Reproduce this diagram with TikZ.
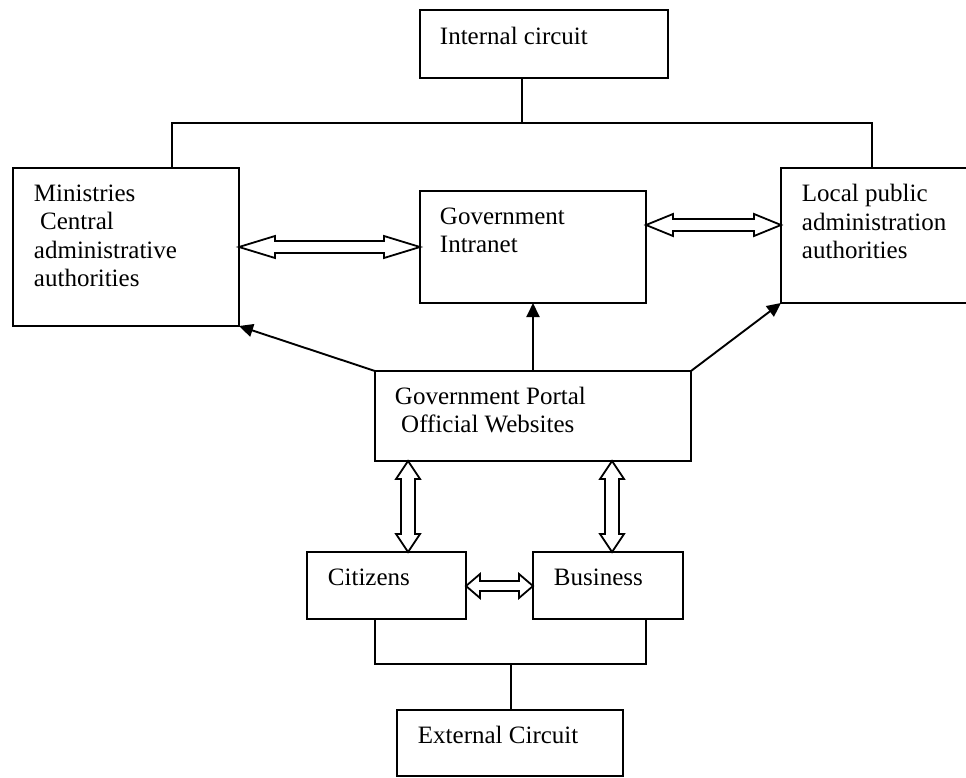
\documentclass[tikz,border=0pt]{standalone}
\usepackage{fontspec}
\setmainfont{Liberation Serif}
\usetikzlibrary{calc,arrows.meta}
\newcommand{\mylines}[1]{\begin{tabular}[t]{@{}l@{}}#1\end{tabular}}
% horizontal hollow double arrow: left point, right point, head length, head half-height, shaft half-height
\newcommand{\myHarrow}[5]{%
  \draw[hollowarrow] let \p1=(#1), \p2=(#2) in
   (\x1,\y1) -- (\x1+#3,\y1+#4) -- (\x1+#3,\y1+#5) -- (\x2-#3,\y1+#5) -- (\x2-#3,\y1+#4)
   -- (\x2,\y1) -- (\x2-#3,\y1-#4) -- (\x2-#3,\y1-#5) -- (\x1+#3,\y1-#5) -- (\x1+#3,\y1-#4) -- cycle;}
% vertical hollow double arrow: top point, bottom point, head length, head half-width, shaft half-width
\newcommand{\myVarrow}[5]{%
  \draw[hollowarrow] let \p1=(#1), \p2=(#2) in
   (\x1,\y1) -- (\x1+#4,\y1-#3) -- (\x1+#5,\y1-#3) -- (\x1+#5,\y2+#3) -- (\x1+#4,\y2+#3)
   -- (\x1,\y2) -- (\x1-#4,\y2+#3) -- (\x1-#5,\y2+#3) -- (\x1-#5,\y1-#3) -- (\x1-#4,\y1-#3) -- cycle;}
\begin{document}
\begin{tikzpicture}[x=1pt, y=-1pt, line width=1.9pt,
  box/.style={draw, inner sep=0pt, outer sep=0pt, anchor=north west},
  txt/.style={anchor=base west, inner sep=0pt, font=\fontsize{25}{28.5}\selectfont},
  hollowarrow/.style={draw, fill=white, line join=miter, line width=1.8pt},
  arr/.style={-{Triangle[length=14pt,width=13pt]}}]
\path[use as bounding box, clip] (0,0) rectangle (966,778);

% boxes
\node[box, minimum width=248pt, minimum height=68pt]  (int)   at (420,10)  {};
\node[box, minimum width=226pt, minimum height=158pt] (min)   at (13,168)  {};
\node[box, minimum width=226pt, minimum height=112pt] (intra) at (420,191) {};
\node[box, minimum width=200pt, minimum height=135pt] (loc)   at (781,168) {};
\node[box, minimum width=316pt, minimum height=90pt]  (por)   at (375,371) {};
\node[box, minimum width=159pt, minimum height=67pt]  (cit)   at (307,552) {};
\node[box, minimum width=150pt, minimum height=67pt]  (bus)   at (533,552) {};
\node[box, minimum width=226pt, minimum height=66pt]  (ext)   at (397,710) {};

% texts
\node[txt] (intT)   at (439,45)  {Internal circuit};
\node[txt] (minT)   at (33,201)  {\mylines{Ministries\\\hspace{0.25em}Central\\administrative\\authorities}};
\node[txt] (intraT) at (439,224) {\mylines{Government\\Intranet}};
\node[txt] (locT)   at (801,202) {\mylines{Local public\\administration\\authorities}};
\node[txt] (porT)   at (394,404) {\mylines{Government Portal\\\hspace{0.25em}Official Websites}};
\node[txt] (citT)   at (327,585) {Citizens};
\node[txt] (busT)   at (553,585) {Business};
\node[txt] (extT)   at (417,743) {External Circuit};

% internal circuit tree
\coordinate (jt) at (522,123);
\coordinate (jl) at (172,123);
\coordinate (jr) at (872,123);
\draw (jt |- int.south) -- (jt);
\draw (jl |- min.north) -- (jl) -- (jr) -- (jr |- loc.north);

% external circuit tree
\coordinate (jb)  at (511,664);
\coordinate (jbl) at (375,664);
\coordinate (jbr) at (646,664);
\draw (jbl |- cit.south) -- (jbl) -- (jbr) -- (jbr |- bus.south);
\draw (jb) -- (jb |- ext.north);

% portal arrows
\draw[arr] (por.north west) -- (min.south east);
\draw[arr] (por.north) -- (intra.south);
\draw[arr] (por.north east) -- (loc.south west);

% hollow double arrows
\myHarrow{min.east}{intra.west}{36pt}{11pt}{6pt}
\myHarrow{intra.east |- 0,225}{loc.west |- 0,225}{27pt}{11pt}{6pt}
\myHarrow{cit.east |- 0,586}{bus.west |- 0,586}{14pt}{12pt}{5pt}
\myVarrow{por.south -| 408,0}{cit.north -| 408,0}{18pt}{12pt}{7pt}
\myVarrow{por.south -| 612,0}{bus.north -| 612,0}{18pt}{12pt}{7pt}
\end{tikzpicture}
\end{document}
